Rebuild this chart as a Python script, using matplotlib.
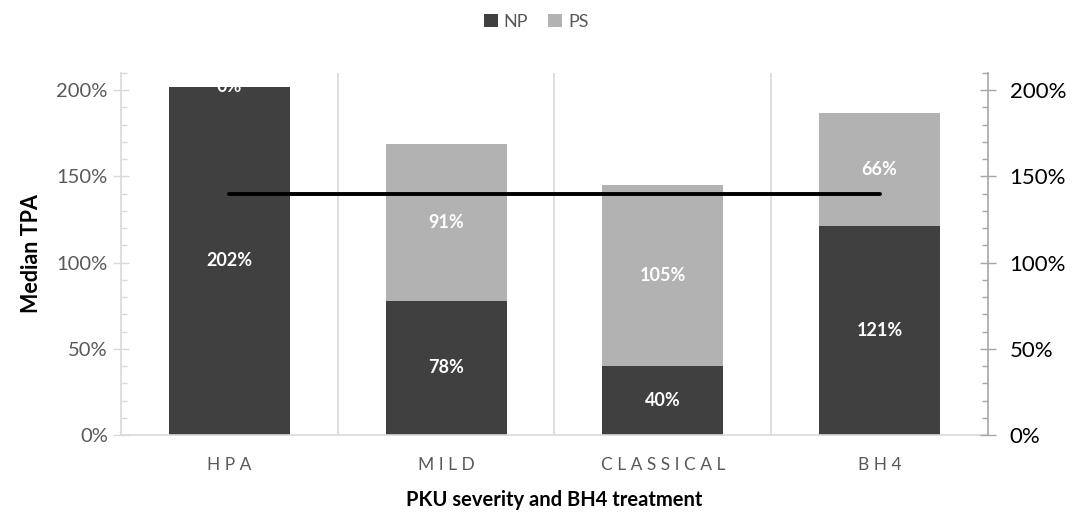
import numpy as np
import matplotlib.pyplot as plt
from matplotlib.ticker import MultipleLocator, PercentFormatter

plt.rcParams['font.family'] = ['Lato', 'DejaVu Sans']

categories = ["H P A", "M I L D", "C L A S S I C A L", "B H 4"]
np_vals = [202, 78, 40, 121]
ps_vals = [0, 91, 105, 66]
line_vals = [140, 140, 140, 140]

dark = "#404040"
light = "#b2b2b2"

fig = plt.figure(figsize=(10.79, 5.17), dpi=100)
ax = fig.add_axes([0.1121, 0.1586, 0.8036, 0.7002])
x = np.arange(len(categories))
w = 0.558

b1 = ax.bar(x, np_vals, w, color=dark, label="NP", zorder=2)
b2 = ax.bar(x, ps_vals, w, bottom=np_vals, color=light, label="PS", zorder=2)

for i in range(len(x)):
    ax.text(x[i], np_vals[i] / 2, f"{np_vals[i]}%", ha="center", va="center",
            color="white", fontsize=13, fontweight="bold", zorder=3)
    ax.text(x[i], np_vals[i] + ps_vals[i] / 2, f"{ps_vals[i]}%", ha="center", va="center",
            color="white", fontsize=13, fontweight="bold", zorder=3, clip_on=False)

ax.set_xlim(-0.5, len(categories) - 0.5)
ax.set_ylim(0, 210)
ax.yaxis.set_minor_locator(MultipleLocator(10))
ax.yaxis.set_major_formatter(PercentFormatter(decimals=0))
ax.set_yticks([0, 50, 100, 150, 200])
ax.tick_params(axis="y", which="major", direction="inout", length=11, width=1,
               color="#d9d9d9", labelcolor="#595959", labelsize=14.5, pad=4)
ax.tick_params(axis="y", which="minor", direction="in", length=4.5, width=1, color="#d9d9d9")

ax.set_xticks(x)
ax.set_xticklabels(categories)
ax.tick_params(axis="x", length=0, labelcolor="#595959", labelsize=12.5, pad=16)
for b in [0.5, 1.5, 2.5]:
    ax.axvline(b, color="#d9d9d9", lw=1.2, zorder=1)

for s in ["top", "right"]:
    ax.spines[s].set_visible(False)
ax.spines["left"].set_color("#d9d9d9")
ax.spines["bottom"].set_color("#d9d9d9")
ax.spines["left"].set_linewidth(1.2)
ax.spines["bottom"].set_linewidth(1.2)

ax.set_ylabel("Median TPA", fontsize=15.5, fontweight="bold", labelpad=10)
ax.set_xlabel("PKU severity and BH4 treatment", fontsize=14.5, fontweight="bold", labelpad=12)

ax2 = ax.twinx()
ax2.plot(x, line_vals, color="black", lw=2.8, solid_capstyle="round", zorder=4)
ax2.set_ylim(0, 210)
ax2.set_yticks([0, 50, 100, 150, 200])
ax2.yaxis.set_minor_locator(MultipleLocator(10))
ax2.yaxis.set_major_formatter(PercentFormatter(decimals=0))
ax2.tick_params(axis="y", which="major", direction="inout", length=11, width=1,
                color="#a6a6a6", labelcolor="black", labelsize=16, pad=10)
ax2.tick_params(axis="y", which="minor", direction="in", length=4, width=1, color="#a6a6a6")
for s in ["top", "left", "bottom"]:
    ax2.spines[s].set_visible(False)
ax2.spines["right"].set_color("#a6a6a6")
ax2.spines["right"].set_linewidth(1.2)

fig.legend(handles=[b1, b2], labels=["NP", "PS"], loc="center", bbox_to_anchor=(0.497, 0.958),
           ncol=2, frameon=False, fontsize=13, labelcolor="#595959",
           handlelength=0.75, handleheight=0.75, handletextpad=0.35, columnspacing=1.1)

fig.savefig("out.png", dpi=100)
